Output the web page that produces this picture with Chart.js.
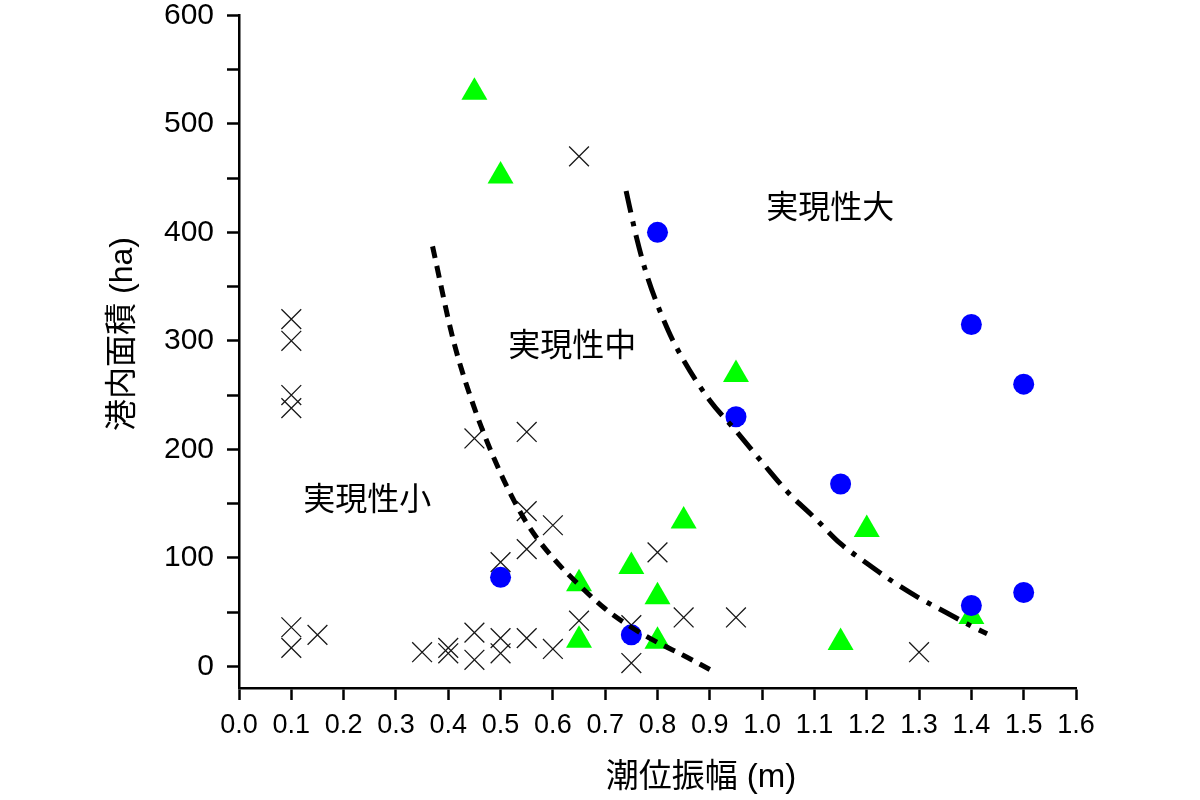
<!DOCTYPE html>
<html>
<head>
<meta charset="utf-8">
<script src="https://cdn.jsdelivr.net/npm/chart.js@4"></script>
<style>
  html, body { margin: 0; padding: 0; background: #fff; }
  #wrap { width: 1200px; height: 800px; }
</style>
</head>
<body>
<div id="wrap"><canvas id="tideChart"></canvas></div>
<script>
// 実現性小 (×)
const crossX = [0.1, 0.1, 0.1, 0.1, 0.1, 0.1, 0.15, 0.35, 0.4, 0.4, 0.45, 0.45, 0.45, 0.5, 0.5, 0.5,
                0.55, 0.55, 0.55, 0.55, 0.6, 0.6, 0.65, 0.65, 0.75, 0.75, 0.8, 0.85, 0.95, 1.3];
const crossY = [320, 300, 250, 238, 36, 17, 29, 13, 17, 12, 210, 31, 6, 96, 26, 12,
                216, 143, 108, 26, 130, 16, 470, 42, 38, 3, 105, 45, 45, 13];

// 実現性中 (▲)
const triX = [0.45, 0.5, 0.65, 0.65, 0.75, 0.8, 0.8, 0.85, 0.95, 1.15, 1.2, 1.4];
const triY = [529, 452, 76, 24, 92, 64, 23, 134, 269, 22, 126, 46];

// 実現性大 (●)
const circX = [0.5, 0.75, 0.8, 0.95, 1.15, 1.4, 1.4, 1.5, 1.5];
const circY = [82, 29, 400, 230, 168, 315, 56, 260, 68];

// 境界線 (小/中)
const lowLineX = [0.37, 0.41, 0.45, 0.5, 0.55, 0.6, 0.65, 0.7, 0.75, 0.8, 0.85, 0.9];
const lowLineY = [387, 300, 238, 178, 132, 100, 75, 53, 36, 22, 10, -3];

// 境界線 (中/大)
const highLineX = [0.74, 0.76, 0.78, 0.82, 0.85, 0.9, 0.95, 1.0, 1.05, 1.1, 1.15, 1.2, 1.25, 1.3, 1.35, 1.4, 1.43];
const highLineY = [438, 395, 360, 310, 282, 245, 217, 188, 160, 137, 113, 95, 78, 63, 50, 37, 30];

// 領域ラベル
const regionLabels = ['実現性大', '実現性中', '実現性小'];
const regionX = [1.13, 0.637, 0.245];
const regionY = [424, 297, 155];

const xTitle = '潮位振幅 (m)';
const yTitle = '港内面積 (ha)';

function toPoints(xs, ys) {
    return xs.map((x, i) => ({ x: x, y: ys[i] }));
}

const cjkFont = "'Noto Sans CJK JP', 'Noto Sans', sans-serif";
const titleFont = "'Liberation Sans', 'Noto Sans CJK JP', sans-serif";
const sansFont = "'Liberation Sans', Arial, sans-serif";

// 領域ラベルと軸タイトル
const textPlugin = {
    id: 'regionText',
    afterDatasetsDraw(chart) {
        const ctx = chart.ctx;
        const xs = chart.scales.x, ys = chart.scales.y;
        ctx.save();
        ctx.fillStyle = '#000';
        ctx.font = '32px ' + cjkFont;
        ctx.textAlign = 'center';
        ctx.textBaseline = 'middle';
        regionLabels.forEach((t, i) => {
            ctx.fillText(t, xs.getPixelForValue(regionX[i]), ys.getPixelForValue(regionY[i]));
        });
        ctx.font = '33px ' + titleFont;
        ctx.fillText(xTitle, 701, 778);
        ctx.font = '32px ' + titleFont;
        ctx.translate(123, 334);
        ctx.rotate(-Math.PI / 2);
        ctx.fillText(yTitle, 0, 0);
        ctx.restore();
    }
};

const ctx = document.getElementById('tideChart').getContext('2d');
new Chart(ctx, {
    type: 'scatter',
    data: {
        datasets: [
            {
                label: 'line-high',
                data: toPoints(highLineX, highLineY),
                showLine: true,
                borderColor: '#000',
                borderWidth: 5,
                borderDash: [22, 9, 5, 9],
                pointRadius: 0,
                cubicInterpolationMode: 'monotone',
                fill: false
            },
            {
                label: 'line-low',
                data: toPoints(lowLineX, lowLineY),
                showLine: true,
                borderColor: '#000',
                borderWidth: 5,
                borderDash: [12, 8],
                pointRadius: 0,
                cubicInterpolationMode: 'monotone',
                fill: false
            },
            {
                label: '実現性大',
                data: toPoints(circX, circY),
                pointStyle: 'circle',
                pointRadius: 10.5,
                backgroundColor: '#0000ff',
                borderColor: '#0000ff',
                borderWidth: 0
            },
            {
                label: '実現性中',
                data: toPoints(triX, triY),
                pointStyle: 'triangle',
                pointRadius: 15,
                backgroundColor: '#00ff00',
                borderColor: '#00ff00',
                borderWidth: 0
            },
            {
                label: '実現性小',
                data: toPoints(crossX, crossY),
                pointStyle: 'crossRot',
                pointRadius: 14,
                backgroundColor: '#1a1a1a',
                borderColor: '#1a1a1a',
                borderWidth: 1.3
            }
        ]
    },
    options: {
        responsive: true,
        maintainAspectRatio: false,
        animation: false,
        events: [],
        layout: {
            padding: { left: 0, right: 124, top: 0, bottom: 0 }
        },
        plugins: {
            legend: { display: false },
            tooltip: { enabled: false }
        },
        scales: {
            x: {
                type: 'linear',
                min: 0,
                max: 1.6,
                afterFit: scale => { scale.height = 112; },
                border: { display: true, color: '#000', width: 2.5 },
                grid: {
                    drawOnChartArea: false,
                    drawTicks: true,
                    tickLength: 12,
                    tickWidth: 2.5,
                    tickColor: '#000'
                },
                ticks: {
                    stepSize: 0.1,
                    padding: 12,
                    color: '#000',
                    font: { family: sansFont, size: 27, lineHeight: 1 },
                    maxRotation: 0,
                    autoSkip: false,
                    callback: v => Number(v).toFixed(1)
                }
            },
            y: {
                type: 'linear',
                min: -20,
                max: 600,
                afterFit: scale => { scale.width = 239; },
                border: { display: true, color: '#000', width: 2.5 },
                grid: {
                    drawOnChartArea: false,
                    drawTicks: true,
                    tickLength: 12,
                    tickWidth: 2.5,
                    tickColor: '#000'
                },
                ticks: {
                    stepSize: 50,
                    includeBounds: false,
                    padding: 13,
                    color: '#000',
                    font: { family: sansFont, size: 30, lineHeight: 0.01 },
                    autoSkip: false,
                    callback: v => (v % 100 === 0 ? String(v) : '')
                }
            }
        }
    },
    plugins: [textPlugin]
});
</script>
</body>
</html>
